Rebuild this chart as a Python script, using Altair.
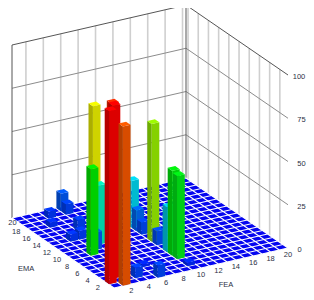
import altair as alt
import pandas as pd

fea_cell = [1,2,4,0,4,9,2,9,9,9,9,5,3,5,2,3,4,2,3,9,9,9,3,5,5,9,1]
ema_cell = [0,4,11,1,10,12,8,8,3,4,5,19,18,18,16,12,14,12,9,11,10,7,1,3,0,1,2]
value = [92,96,78,100,34,27,50,68,48,49,26,10,4,6,3,5,6,4,10,12,7,8,6,1.5,7,2,100]

ticks = [2,4,6,8,10,12,14,16,18,20]
z_ticks = [0,25,50,75,100]
grid_cells = list(range(21))
wall_lines = [t-0.4 for t in ticks]

OX, OY = 114.0, 288.0
FX, FY = 8.7, -2.0
EX, EY = -5.1, -3.5
ZY = -1.73
W, H = 298, 288
MARGIN = 8

def proj(f, e, z=0):
    return OX + FX*f + EX*e - MARGIN, OY + FY*f + EY*e + ZY*z - MARGIN

def ramp(v):
    stops = [(0,(0,30,245)),(10,(0,85,235)),(30,(0,225,225)),(50,(0,225,0)),(78,(225,230,0)),(100,(240,0,0))]
    for (a,ca),(b,cb) in zip(stops, stops[1:]):
        if v <= b:
            t = (v-a)/(b-a)
            return tuple(ca[i]+(cb[i]-ca[i])*t for i in range(3))
    return stops[-1][1]

def shade(c, k):
    return "#%02x%02x%02x" % tuple(min(255,int(x*k)) for x in c)

area_rows = []
def polygon(pid, pts, color):
    xs = sorted(set(round(p[0],3) for p in pts))
    n = len(pts)
    for x in xs:
        ys = []
        for i in range(n):
            a, b = pts[i], pts[(i+1)%n]
            lo, hi = min(a[0],b[0]), max(a[0],b[0])
            if lo-1e-2 <= x <= hi+1e-2:
                if abs(b[0]-a[0]) < 1e-2:
                    ys += [a[1], b[1]]
                else:
                    ys.append(a[1]+(b[1]-a[1])*(x-a[0])/(b[0]-a[0]))
        area_rows.append(dict(pid=pid, x=x, y=min(ys), y2=max(ys), color=color))

polygon("floor", [proj(0,0),proj(20,0),proj(20,20),proj(0,20)], "#0505f0")
INSET = 0.065
order = sorted(range(len(value)), key=lambda i: -(fea_cell[i]+ema_cell[i]))
for rank, i in enumerate(order):
    f0, f1 = fea_cell[i]+INSET, fea_cell[i]+1-INSET
    e0, e1 = ema_cell[i]+INSET, ema_cell[i]+1-INSET
    v = value[i]
    c = ramp(v)
    polygon(f"b{rank:02d}l", [proj(f0,e0,0),proj(f0,e1,0),proj(f0,e1,v),proj(f0,e0,v)], shade(c,0.76))
    polygon(f"b{rank:02d}r", [proj(f0,e0,0),proj(f1,e0,0),proj(f1,e0,v),proj(f0,e0,v)], shade(c,0.92))
    polygon(f"b{rank:02d}t", [proj(f0,e0,v),proj(f1,e0,v),proj(f1,e1,v),proj(f0,e1,v)], shade(c,1.1))
area_df = pd.DataFrame(area_rows)

SX = alt.Scale(domain=[0,W], range=[0,W], nice=False, zero=False)
SY = alt.Scale(domain=[0,H], range=[0,H], nice=False, zero=False)
X = lambda f: alt.X(f, type="quantitative", scale=SX, axis=None)
Y = lambda f: alt.Y(f, type="quantitative", scale=SY, axis=None)

def seg(a, b):
    return dict(x=a[0], y=a[1], x2=b[0], y2=b[1])

def rules(segs, color, width):
    return alt.Chart(pd.DataFrame(segs)).mark_rule(color=color, strokeWidth=width).encode(
        x=X("x"), y=Y("y"), x2="x2:Q", y2="y2:Q")

vert = [seg(proj(t,20,0),proj(t,20,100)) for t in wall_lines] + \
       [seg(proj(20,t,0),proj(20,t,100)) for t in wall_lines]
horiz = [seg(proj(0,20,z),proj(20,20,z)) for z in z_ticks[1:4]] + \
        [seg(proj(20,20,z),proj(20,0,z)) for z in z_ticks[1:4]]
edge = [seg(proj(0,20,0),proj(0,20,100)), seg(proj(20,20,0),proj(20,20,100)),
        seg(proj(0,20,100),proj(20,20,100)), seg(proj(20,20,100),proj(20,0,100))]
floor_lines = [seg(proj(g,0),proj(g,20)) for g in grid_cells] + [seg(proj(0,g),proj(20,g)) for g in grid_cells]

floor_area = alt.Chart(area_df[area_df.pid=="floor"]).mark_area(interpolate="linear").encode(
    x=X("x"), y=Y("y"), y2="y2:Q", color=alt.Color("color:N", scale=None))
bars_area = alt.Chart(area_df[area_df.pid!="floor"]).mark_area(interpolate="linear").encode(
    x=X("x"), y=Y("y"), y2="y2:Q", detail="pid:N", color=alt.Color("color:N", scale=None))

labels = []
for t in ticks:
    x,y = proj(t,0); labels.append(dict(x=x, y=y+7, t=str(t)))
    x,y = proj(0,t); labels.append(dict(x=max(x-6, 4.5), y=y+(5 if t==20 else 7), t=str(t)))
for z in z_ticks:
    x,y = proj(20,0,z)
    labels.append(dict(x=x+(11 if z==100 else 13.5 if z else 11.5), y=y+2, t=str(z)))
x,y = proj(0,0); labels.append(dict(x=x-88, y=y-19, t="EMA"))
labels.append(dict(x=x+112, y=y-3, t="FEA"))
text = alt.Chart(pd.DataFrame(labels)).mark_text(font="Liberation Sans", fontSize=7.5, color="#2b2f45").encode(
    x=X("x"), y=Y("y"), text="t:N")

chart = alt.layer(
    rules(vert, "#cfcfcf", 1.6),
    rules(horiz, "#8c8c8c", 1),
    rules(edge, "#555555", 1),
    floor_area,
    rules(floor_lines, "#ffffff", 1.1),
    bars_area,
    text,
).properties(width=W, height=H, padding=0, autosize=alt.AutoSizeParams(type="none")
).configure_view(stroke=None)

chart.save("out.html", embed_options={"renderer": "svg", "actions": False})
